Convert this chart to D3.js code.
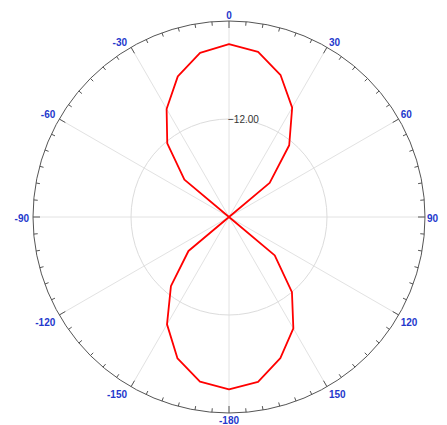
<!DOCTYPE html>
<html>
<head>
<meta charset="utf-8">
<script src="https://cdn.jsdelivr.net/npm/d3@7"></script>
<style>
  html, body { margin: 0; padding: 0; background: #ffffff; }
  svg { display: block; }
</style>
</head>
<body>
<svg id="chart" width="447" height="425"></svg>
<script>
// Radiation pattern (dB) sampled every 10 degrees, clockwise from the top
const angles = [-180, -170, -160, -150, -140, -130, -120, -110, -100, -90, -80, -70, -60,
                -50, -40, -30, -20, -10, 0, 10, 20, 30, 40, 50,
                60, 70, 80, 90, 100, 110, 120, 130, 140, 150, 160, 170];
const gainDb = [-2.90, -3.53, -5.57, -8.82, -12.94, -17.52, -24, -24, -24, -24, -24, -24, -24,
                -16.87, -12.24, -8.72, -5.67, -3.60, -2.82, -3.47, -5.52, -8.53, -12.53, -17.50,
                -24, -24, -24, -24, -24, -24, -24, -16.69, -12.01, -8.24, -5.61, -3.51];

// Angle labels around the rim and the radial ring label
const angleTicks = [0, 30, 60, 90, 120, 150, 180, -150, -120, -90, -60, -30];
const angleTickLabels = ["0", "30", "60", "90", "120", "150", "-180", "-150", "-120", "-90", "-60", "-30"];
const ringValues = [-12];
const radialDomain = [-24, 0];

const cx = 229, cy = 217, R = 196;
const svg = d3.select("#chart");
const g = svg.append("g").attr("transform", `translate(${cx},${cy})`);

const r = d3.scaleLinear().domain(radialDomain).range([0, R]).clamp(true);
const toRad = d => d * Math.PI / 180;
const px = (deg, rad) => rad * Math.sin(toRad(deg));
const py = (deg, rad) => -rad * Math.cos(toRad(deg));

// spokes every 30 degrees
g.selectAll("line.spoke").data(angleTicks).join("line")
  .attr("class", "spoke")
  .attr("x1", 0).attr("y1", 0)
  .attr("x2", d => px(d, R)).attr("y2", d => py(d, R))
  .attr("stroke", "#e2e2e2").attr("stroke-width", 1);

// inner grid ring
g.selectAll("circle.ring").data(ringValues).join("circle")
  .attr("class", "ring")
  .attr("r", d => r(d))
  .attr("fill", "none").attr("stroke", "#dcdcdc").attr("stroke-width", 1);

g.selectAll("text.ringlabel").data(ringValues).join("text")
  .attr("class", "ringlabel")
  .attr("x", -1).attr("y", d => -r(d) + 4)
  .attr("font-family", "Liberation Sans, Arial, sans-serif")
  .attr("font-size", 10).attr("fill", "#333")
  .text(d => d3.format(".2f")(d));

// outer rim
g.append("circle").attr("r", R)
  .attr("fill", "none").attr("stroke", "#555").attr("stroke-width", 1);

// rim ticks every 5 degrees, longer at 30 degree steps
const tickAngles = d3.range(-180, 180, 5);
g.selectAll("line.tick").data(tickAngles).join("line")
  .attr("class", "tick")
  .attr("x1", d => px(d, R)).attr("y1", d => py(d, R))
  .attr("x2", d => px(d, R - (d % 30 === 0 ? 7 : 4)))
  .attr("y2", d => py(d, R - (d % 30 === 0 ? 7 : 4)))
  .attr("stroke", "#555").attr("stroke-width", 1);

// angle labels
angleTicks.forEach((a, i) => {
  const x = px(a, R), y = py(a, R);
  const s = Math.sin(toRad(a)), c = Math.cos(toRad(a));
  let anchor = "middle", dx = 0, dy = 0, base = "central";
  if (s > 0.01) { anchor = "start"; dx = 2; }
  else if (s < -0.01) { anchor = "end"; dx = -4; }
  if (c > 0.01) { base = "alphabetic"; dy = -1; }
  else if (c < -0.01) { base = "hanging"; dy = 4; }
  if (Math.abs(c) < 0.01) { dy = 1; }
  if (Math.abs(s) < 0.01 && c > 0) { dy = -2; }
  g.append("text")
    .attr("x", x + dx).attr("y", y + dy)
    .attr("text-anchor", anchor)
    .attr("dominant-baseline", base)
    .attr("font-family", "Liberation Sans, Arial, sans-serif")
    .attr("font-size", 10).attr("font-weight", "bold")
    .attr("fill", "#2438cc")
    .text(angleTickLabels[i]);
});

// pattern trace
const pts = angles.map((a, i) => ({ a, v: gainDb[i] }));
const line = d3.lineRadial()
  .angle(d => toRad(d.a))
  .radius(d => r(d.v))
  .curve(d3.curveLinearClosed);

g.append("path")
  .attr("d", line(pts))
  .attr("fill", "none")
  .attr("stroke", "#ff0000")
  .attr("stroke-width", 1.8)
  .attr("stroke-linejoin", "round");
</script>
</body>
</html>
